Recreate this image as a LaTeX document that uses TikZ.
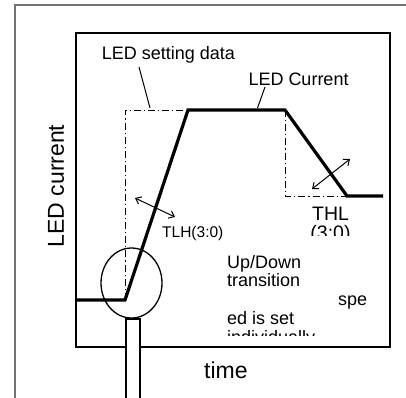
\documentclass[tikz,border=0pt]{standalone}
\usepackage{fontspec}
\setmainfont{Liberation Sans}
\usetikzlibrary{arrows.meta,shapes.geometric}
\begin{document}
\begin{tikzpicture}[x=1pt,y=-1pt,
  lbl/.style={inner sep=0pt,anchor=base west,font=\fontsize{18}{20}\selectfont},
  big/.style={inner sep=0pt,font=\fontsize{23}{26}\selectfont},
  small/.style={inner sep=0pt,anchor=base west,font=\fontsize{15.5}{18}\selectfont},
  current/.style={line width=3.2pt,line join=miter},
  setting/.style={line width=1pt,dash pattern=on 7pt off 3pt on 1.2pt off 3pt},
  leader/.style={line width=1pt},
  dbl/.style={line width=1pt,{Straight Barb[length=5pt,width=8pt]}-{Straight Barb[length=5pt,width=8pt]}}]
\useasboundingbox (0,0) rectangle (406,397);
% outer frame
\draw[line width=1.5pt,color=black!55] (15,400) -- (15,5) -- (410,5);
% inner box
\draw[line width=2pt] (76,33) rectangle (390,347);
% setting data (dash-dot)
\coordinate (s0) at (125,300);
\coordinate (s1) at (125,110);
\coordinate (s2) at (188,110);
\coordinate (s3) at (285,110);
\coordinate (s4) at (285,196);
\coordinate (s5) at (347,196);
\draw[setting] (s0) -- (s1) -- (s2);
\draw[setting] (s3) -- (s4) -- (s5);
% LED current (thick)
\coordinate (c0) at (76,300);
\coordinate (c1) at (125,300);
\coordinate (c6) at (383,196);
\draw[current] (c0) -- (c1) -- (s2) -- (s3) -- (s5) -- (c6);
% labels
\node[lbl] (setlbl) at (101.7,59.3) {LED setting data};
\node[lbl] (curlbl) at (248.3,85) {LED Current};
\coordinate (setlead0) at (139,67);
\coordinate (setlead1) at (150,108);
\coordinate (curlead0) at (265,87);
\coordinate (curlead1) at (257.5,108);
\draw[leader] (setlead0) -- (setlead1);
\draw[leader] (curlead0) -- (curlead1);
\node[big,rotate=90] (ylbl) at (56,186) {LED current};
\node[big,anchor=base west] (xlbl) at (204,378) {time};
% TLH
\coordinate (ta) at (135,198);
\coordinate (tb) at (175,217);
\draw[dbl] (ta) -- (tb);
\node[small] (tlh) at (162,237.5) {TLH(3:0)};
% THL
\coordinate (ha) at (312,189);
\coordinate (hb) at (350,159);
\draw[dbl] (ha) -- (hb);
\begin{scope}
\clip (300,195) rectangle (375,235);
\node[inner sep=0pt,anchor=base,font=\fontsize{19.5}{21}\selectfont] (thl) at (330.5,220) {THL};
\node[inner sep=0pt,anchor=base,font=\fontsize{19.5}{21}\selectfont] (thl2) at (330.5,239) {(3:0)};
\end{scope}
% Up/Down text
\begin{scope}
\clip (220,240) rectangle (385,335);
\node[lbl] (t1) at (227,268) {Up/Down};
\node[lbl] (t2) at (227,286) {transition};
\node[lbl] (t3) at (338,305) {spe};
\node[lbl] (t4) at (227,324) {ed is set};
\node[lbl] (t5) at (227,343) {individually};
\end{scope}
% circle and stem
\node[draw,line width=1.3pt,ellipse,minimum width=61pt,minimum height=70pt,inner sep=0pt] (circ) at (131.5,283) {};
\draw[line width=1.3pt,fill=white] (126,410) -- (126,319) -- (140,319) -- (140,410);
\end{tikzpicture}
\end{document}
